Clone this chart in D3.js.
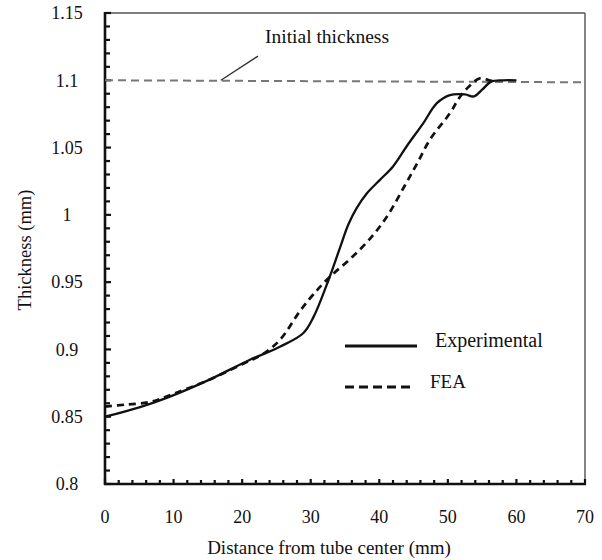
<!DOCTYPE html>
<html>
<head>
<meta charset="utf-8">
<script src="https://cdn.jsdelivr.net/npm/d3@7"></script>
<style>
  body { margin: 0; background: #fff; }
</style>
</head>
<body>
<div id="vis"></div>
<script>
// values
var expX = [0, 5, 9, 15, 21, 25.5, 28.9, 30.4, 32.6, 34.3, 35.5, 36.7, 38.2, 40.1, 42, 44, 46.4, 48.4, 50.3, 52.5, 53.8, 55, 56.3, 58, 60];
var expY = [0.85, 0.857, 0.864, 0.877, 0.892, 0.902, 0.912, 0.924, 0.9516, 0.976, 0.993, 1.005, 1.016, 1.026, 1.036, 1.051, 1.068, 1.083, 1.089, 1.0895, 1.088, 1.093, 1.099, 1.1, 1.1];

var feaX = [0, 3, 6.6, 10, 15, 20, 23, 25.5, 28.5, 30.4, 32.8, 35.7, 38.6, 41.1, 43.75, 45.5, 47.4, 50.3, 51.8, 53.2, 54.7, 56, 57];
var feaY = [0.8575, 0.859, 0.861, 0.867, 0.877, 0.889, 0.8965, 0.907, 0.929, 0.941, 0.954, 0.967, 0.982, 0.9986, 1.022, 1.038, 1.056, 1.0755, 1.088, 1.096, 1.1015, 1.1, 1.099];

var initX = [0, 70];
var initY = [1.1, 1.0985];

var xTicks = [0, 10, 20, 30, 40, 50, 60, 70];
var yTicks = [0.8, 0.85, 0.9, 0.95, 1, 1.05, 1.1, 1.15];
var yTickLabels = ["0.8", "0.85", "0.9", "0.95", "1", "1.05", "1.1", "1.15"];

var font = "'Liberation Serif', 'Times New Roman', 'DejaVu Serif', serif";

var margin = {top: 13, right: 17, bottom: 76, left: 105},
    width = 602 - margin.left - margin.right,
    height = 560 - margin.top - margin.bottom;

var svg = d3.select("#vis").append("svg")
    .attr("width", 602)
    .attr("height", 560)
    .attr("font-family", font)
    .style("font-family", font);

var g = svg.append("g")
    .attr("transform", "translate(" + margin.left + "," + margin.top + ")");

var x = d3.scaleLinear().domain([0, 70]).range([0, width]);
var y = d3.scaleLinear().domain([0.8, 1.15]).range([height, 0]);

// frame: top and right are thin grey
g.append("line").attr("x1", 0).attr("x2", width).attr("y1", 0).attr("y2", 0)
  .attr("stroke", "#555").attr("stroke-width", 1.6);
g.append("line").attr("x1", width).attr("x2", width).attr("y1", 0).attr("y2", height)
  .attr("stroke", "#666").attr("stroke-width", 1.6);

// minor ticks, pointing inward
var yMinor = d3.range(80, 116).map(function(d) { return d / 100; });
g.selectAll(".ytick").data(yMinor).enter().append("line")
  .attr("x1", 0)
  .attr("x2", function(d) { return Math.round(d * 100) % 5 == 0 ? 6 : 5; })
  .attr("y1", function(d) { return y(d); })
  .attr("y2", function(d) { return y(d); })
  .attr("stroke", "#111").attr("stroke-width", 2.2);

var xMinor = d3.range(0, 71, 2);
g.selectAll(".xtick").data(xMinor).enter().append("line")
  .attr("x1", function(d) { return x(d); })
  .attr("x2", function(d) { return x(d); })
  .attr("y1", height)
  .attr("y2", function(d) { return d % 10 == 0 ? height - 5 : height - 4; })
  .attr("stroke", "#111").attr("stroke-width", 2.2);

// main axes
g.append("line").attr("x1", 0).attr("x2", 0).attr("y1", -1).attr("y2", height + 1)
  .attr("stroke", "#111").attr("stroke-width", 2.6);
g.append("line").attr("x1", -1).attr("x2", width + 1).attr("y1", height).attr("y2", height)
  .attr("stroke", "#111").attr("stroke-width", 2.6);

// tick labels
g.selectAll(".ylab").data(yTicks).enter().append("text")
  .attr("x", -38)
  .attr("y", function(d) { return y(d); })
  .attr("dy", "0.35em")
  .attr("text-anchor", "middle")
  .attr("fill", "#111")
  .style("font-size", "18px")
  .text(function(d, i) { return yTickLabels[i]; });

g.selectAll(".xlab").data(xTicks).enter().append("text")
  .attr("x", function(d) { return x(d); })
  .attr("y", height + 39)
  .attr("text-anchor", "middle")
  .attr("fill", "#111")
  .style("font-size", "18px")
  .text(function(d) { return d; });

// titles
svg.append("text")
  .attr("x", 329).attr("y", 554)
  .attr("text-anchor", "middle")
  .attr("fill", "#111")
  .style("font-size", "19px")
  .text("Distance from tube center (mm)");

svg.append("text")
  .attr("transform", "translate(31,250) rotate(-90)")
  .attr("text-anchor", "middle")
  .attr("fill", "#111")
  .style("font-size", "18.5px")
  .text("Thickness (mm)");

// initial thickness line
var line = d3.line()
  .x(function(d) { return x(d[0]); })
  .y(function(d) { return y(d[1]); });

g.append("path")
  .datum(d3.zip(initX, initY))
  .attr("d", line)
  .attr("fill", "none")
  .attr("stroke", "#777")
  .attr("stroke-width", 2)
  .attr("stroke-dasharray", "8,5");

g.append("line")
  .attr("x1", x(16.9)).attr("y1", y(1.1))
  .attr("x2", x(22.3)).attr("y2", y(1.118))
  .attr("stroke", "#333").attr("stroke-width", 1.4);

svg.append("text")
  .attr("x", 265).attr("y", 43)
  .attr("fill", "#111")
  .style("font-size", "19.5px")
  .text("Initial thickness");

// curves
var curve = d3.line()
  .x(function(d) { return x(d[0]); })
  .y(function(d) { return y(d[1]); })
  .curve(d3.curveCatmullRom.alpha(0.5));

g.append("path")
  .datum(d3.zip(feaX, feaY))
  .attr("d", curve)
  .attr("fill", "none")
  .attr("stroke", "#111")
  .attr("stroke-width", 2.7)
  .attr("stroke-dasharray", "7,5");

g.append("path")
  .datum(d3.zip(expX, expY))
  .attr("d", curve)
  .attr("fill", "none")
  .attr("stroke", "#111")
  .attr("stroke-width", 2.3);

// legend
svg.append("line").attr("x1", 345).attr("x2", 417).attr("y1", 346).attr("y2", 346)
  .attr("stroke", "#111").attr("stroke-width", 2.8);
svg.append("text").attr("x", 435).attr("y", 347)
  .attr("fill", "#111")
  .style("font-size", "20px").text("Experimental");

svg.append("line").attr("x1", 345).attr("x2", 412).attr("y1", 387).attr("y2", 387)
  .attr("stroke", "#111").attr("stroke-width", 2.8).attr("stroke-dasharray", "9,5");
svg.append("text").attr("x", 430).attr("y", 388)
  .attr("fill", "#111")
  .style("font-size", "19px").text("FEA");
</script>
</body>
</html>
